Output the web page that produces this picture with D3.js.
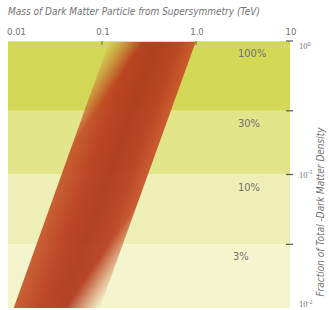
<!DOCTYPE html>
<html>
<head>
<meta charset="utf-8">
<script src="https://cdn.jsdelivr.net/npm/d3@7"></script>
<style>
  body { margin: 0; background: #fff; }
  svg text { fill: #727272; }
</style>
</head>
<body>
<svg id="vis" width="329" height="310"></svg>
<script>
// data
var massTicks = [0.01, 0.1, 1.0, 10];
var massTickLabels = ["0.01", "0.1", "1.0", "10"];
var bandEdges = [1, 0.3, 0.1, 0.03, 0.01];
var bandLabels = ["100%", "30%", "10%", "3%"];
var bandColors = ["#d3d956", "#e3e58a", "#eeefb6", "#f4f5cd"];
var fracTicks = [1, 0.1, 0.01];
var fracExp = ["0", "-1", "-2"];
// susy band: mass at fraction 0.01 and 1
var bandFrac = [0.01, 1];
var bandLow = [0.0115, 0.12];
var bandHigh = [0.095, 1.0];

var svg = d3.select("#vis");
var narrow = "'Liberation Sans Narrow', 'DejaVu Sans Condensed', sans-serif";

var x = d3.scaleLog().domain([0.01, 10]).range([8, 290]);
var y = d3.scaleLog().domain([1, 0.01]).range([41, 308]);

// background bands
svg.append("g").selectAll("rect")
  .data(bandLabels)
  .enter().append("rect")
    .attr("x", x.range()[0])
    .attr("width", x.range()[1] - x.range()[0])
    .attr("y", (d, i) => y(bandEdges[i]))
    .attr("height", (d, i) => y(bandEdges[i + 1]) - y(bandEdges[i]))
    .attr("fill", (d, i) => bandColors[i]);

// band corners
var TL = [x(bandLow[1]), y(bandFrac[1])], TR = [x(bandHigh[1]), y(bandFrac[1])];
var BL = [x(bandLow[0]), y(bandFrac[0])], BR = [x(bandHigh[0]), y(bandFrac[0])];

var defs = svg.append("defs");

// colour across the band (normal to its sides)
var side = [TL[0] - BL[0], TL[1] - BL[1]];
var sl = Math.hypot(side[0], side[1]);
var nrm = [-side[1] / sl, side[0] / sl];
var mid = [(BL[0] + TL[0]) / 2, (BL[1] + TL[1]) / 2];
var w = ((TR[0] - TL[0]) * nrm[0]);
var g1 = defs.append("linearGradient").attr("id", "across")
  .attr("gradientUnits", "userSpaceOnUse")
  .attr("x1", mid[0]).attr("y1", mid[1])
  .attr("x2", mid[0] + nrm[0] * w).attr("y2", mid[1] + nrm[1] * w);
[[0, "#c65529"], [0.3, "#b8391c"], [0.55, "#ad341a"], [0.8, "#b73b1e"], [1, "#c9522a"]]
  .forEach(s => g1.append("stop").attr("offset", s[0]).attr("stop-color", s[1]));

// fade toward top-left and bottom-right corners
var dg = [BL[0] - TR[0], BL[1] - TR[1]];
var dl = Math.hypot(dg[0], dg[1]);
var n2 = [-dg[1] / dl, dg[0] / dl];
var c = [(TR[0] + BL[0]) / 2, (TR[1] + BL[1]) / 2];
var pTL = (TL[0] - c[0]) * n2[0] + (TL[1] - c[1]) * n2[1];
var pBR = (BR[0] - c[0]) * n2[0] + (BR[1] - c[1]) * n2[1];
var g2 = defs.append("linearGradient").attr("id", "fade")
  .attr("gradientUnits", "userSpaceOnUse")
  .attr("x1", c[0] + n2[0] * pTL).attr("y1", c[1] + n2[1] * pTL)
  .attr("x2", c[0] + n2[0] * pBR).attr("y2", c[1] + n2[1] * pBR);
[[0, 0], [0.2, 1], [0.8, 1], [1, 0]]
  .forEach(s => g2.append("stop").attr("offset", s[0]).attr("stop-color", "#fff").attr("stop-opacity", s[1]));

var mask = defs.append("mask").attr("id", "bandMask");
mask.append("rect").attr("x", 0).attr("y", 0).attr("width", 329).attr("height", 310).attr("fill", "url(#fade)");

var area = d3.area()
  .y(d => y(d))
  .x0((d, i) => x(bandLow[i]))
  .x1((d, i) => x(bandHigh[i]));

svg.append("path")
  .datum(bandFrac)
  .attr("d", area)
  .attr("fill", "url(#across)")
  .attr("fill-opacity", 0.93)
  .attr("mask", "url(#bandMask)");

// top edge line
svg.append("line")
  .attr("x1", x.range()[0]).attr("x2", x.range()[1])
  .attr("y1", 41.5).attr("y2", 41.5)
  .attr("stroke", "#d8d8c8").attr("stroke-width", 1);

// top ticks
svg.append("g").selectAll("line")
  .data(massTicks.slice(1, 3))
  .enter().append("line")
    .attr("x1", d => x(d)).attr("x2", d => x(d))
    .attr("y1", 41).attr("y2", 45)
    .attr("stroke", "#666").attr("stroke-width", 1);

svg.append("g").selectAll("text")
  .data(massTicks)
  .enter().append("text")
    .attr("x", (d, i) => i === 0 ? x(d) - 1 : x(d) + 1)
    .attr("y", 35)
    .attr("text-anchor", (d, i) => i === 0 ? "start" : "middle")
    .attr("font-family", narrow)
    .attr("font-size", 9.5)
    .text((d, i) => massTickLabels[i]);

svg.append("text")
  .attr("x", 8).attr("y", 15)
  .attr("font-family", narrow)
  .attr("font-style", "italic")
  .attr("font-size", 10)
  .text("Mass of Dark Matter Particle from Supersymmetry (TeV)");

// band labels
svg.append("g").selectAll("text")
  .data(bandLabels)
  .enter().append("text")
    .attr("x", (d, i) => i === 3 ? 233 : 238)
    .attr("y", (d, i) => y(bandEdges[i]) + 16)
    .attr("font-family", narrow)
    .attr("font-size", 11)
    .text(d => d);

// right ticks
svg.append("g").selectAll("line")
  .data(bandEdges.slice(0, 4))
  .enter().append("line")
    .attr("x1", 286).attr("x2", 293)
    .attr("y1", d => y(d)).attr("y2", d => y(d))
    .attr("stroke", "#555").attr("stroke-width", 1.2);

var rl = svg.append("g").selectAll("text")
  .data(fracTicks)
  .enter().append("text")
    .attr("x", 299)
    .attr("y", d => Math.min(Math.max(y(d) + 3, 49), 307))
    .attr("font-family", "'Liberation Serif', serif")
    .attr("font-size", 8.5);
rl.append("tspan").text("10");
rl.append("tspan").attr("dy", -3.5).attr("font-size", 6).text((d, i) => fracExp[i]);

svg.append("text")
  .attr("transform", "translate(324,212) rotate(-90)")
  .attr("text-anchor", "middle")
  .attr("font-family", narrow)
  .attr("font-style", "italic")
  .attr("font-size", 10)
  .text("Fraction of Total -Dark Matter Density");
</script>
</body>
</html>
